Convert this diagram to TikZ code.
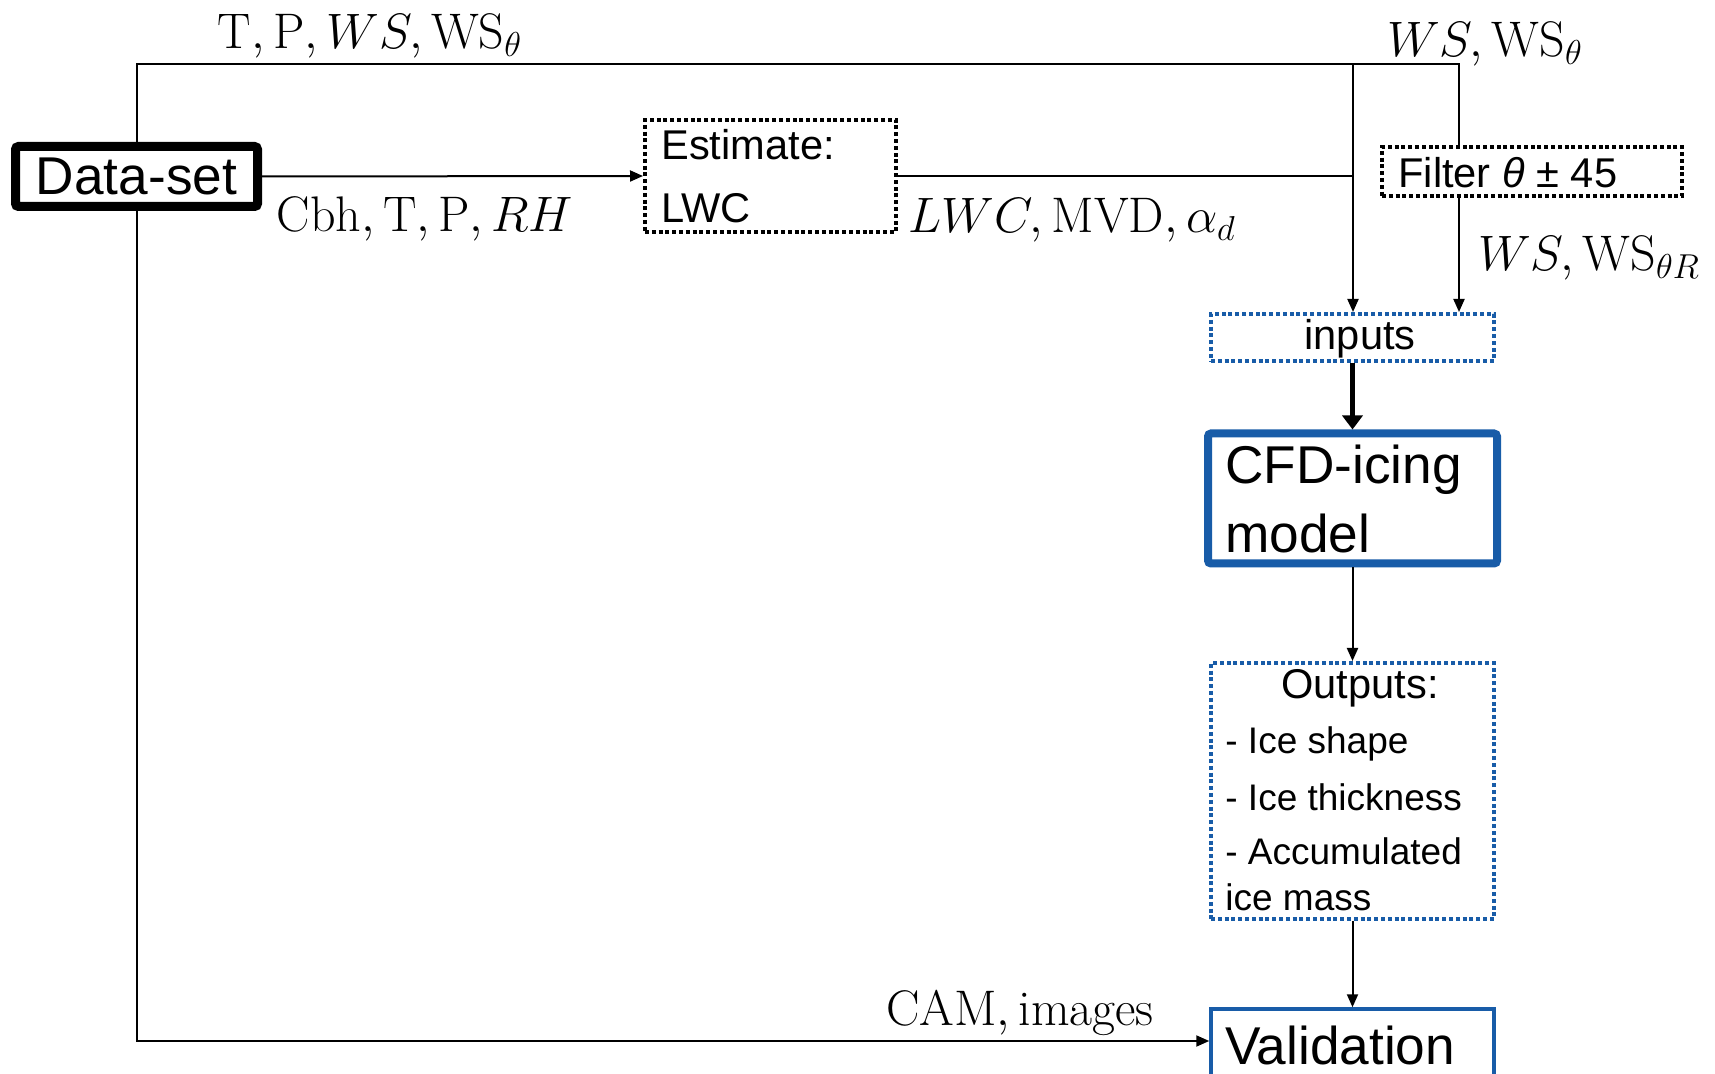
\documentclass[tikz,border=0pt]{standalone}
\usepackage{fontspec}
\newfontfamily\arial{Liberation Sans}
\usetikzlibrary{arrows.meta}
\definecolor{cfdblue}{RGB}{24,92,168}
\begin{document}
\begin{tikzpicture}[x=0.5pt,y=-0.5pt,
  conn/.style={line width=1pt,draw=black},
  arr/.style={conn,-{Triangle[length=6.5pt,width=5.5pt]}},
  bigarr/.style={line width=2.6pt,draw=black,-{Triangle[length=7pt,width=10pt]}},
  box/.style={rectangle,inner sep=0pt,fill=white},
  dotbox/.style={box,draw,line width=2pt,dash pattern=on 2pt off 1.4pt},
  bluedot/.style={dotbox,draw=cfdblue},
  big/.style={font=\arial\fontsize{26.6}{30}\selectfont,inner sep=0pt},
  mid/.style={font=\arial\fontsize{20.8}{24}\selectfont,inner sep=0pt},
  small/.style={font=\arial\fontsize{18.5}{22}\selectfont,inner sep=0pt},
  lab/.style={font=\fontsize{25}{30}\selectfont,inner sep=0pt,anchor=base}]
\useasboundingbox (0,0) rectangle (1715,1074);

% boxes
\node[box,draw,line width=4.5pt,rounded corners=1.5pt,minimum width=121pt,minimum height=30pt] (data) at (136.5,176.5) {};
\node[dotbox,minimum width=125.5pt,minimum height=56pt] (est) at (770.5,176) {};
\node[dotbox,minimum width=150pt,minimum height=24.5pt] (filt) at (1532,171.5) {};
\node[bluedot,minimum width=141.5pt,minimum height=23.5pt] (inp) at (1352.5,337.5) {};
\node[box,draw=cfdblue,line width=4pt,rounded corners=1.5pt,minimum width=144.5pt,minimum height=65pt] (cfd) at (1352.5,498.5) {};
\node[bluedot,minimum width=141.5pt,minimum height=128pt] (out) at (1352.5,791) {};
\node[box,draw=cfdblue,line width=1.75pt,minimum width=141.5pt,minimum height=50pt] (val) at (1352.5,1059) {};

% box texts
\node[big] (tdata) at (data.center) {Data-set};
\node[mid,anchor=west] (test1) at (661,145) {Estimate:};
\node[mid,anchor=west] (test2) at (661,208) {LWC};
\node[mid,anchor=west] (tfilt) at (1398,173) {Filter \textit{θ} ± 45};
\node[mid] (tinp) at (1360,339) {inputs};
\node[big,anchor=west] (tcfd1) at (1225,470) {CFD-icing};
\node[big,anchor=west] (tcfd2) at (1225,533) {model};
\node[mid] (tout) at (1360,688) {Outputs:};
\node[small,anchor=west] (tout1) at (1225,744) {- Ice shape};
\node[small,anchor=west] (tout2) at (1225,797) {- Ice thickness};
\node[small,anchor=west] (tout3) at (1225,851) {- Accumulated};
\node[small,anchor=west] (tout4) at (1225,897) {ice mass};
\node[big,anchor=west] (tval) at (1225,1045) {Validation};

% labels
\node[lab] (l1) at (370,49) {$\mathrm{T}, \mathrm{P}, WS, \mathrm{WS}_{\theta}$};
\node[lab] (l2) at (425,232) {$\mathrm{Cbh}, \mathrm{T}, \mathrm{P}, RH$};
\node[lab] (l3) at (1072,233) {$LWC, \mathrm{MVD}, \alpha_d$};
\node[lab] (l4) at (1485,57) {$WS, \mathrm{WS}_{\theta}$};
\node[lab] (l5) at (1589,271) {$WS, \mathrm{WS}_{\theta R}$};
\node[lab] (l6) at (1020,1025) {$\mathrm{CAM}, \mathrm{images}$};

% junction coordinates
\coordinate (tl) at (137,64.5);
\coordinate (tr1) at (1353,64.5);
\coordinate (tr2) at (1459,64.5);
\coordinate (bl) at (137,1041);

% connectors
\draw[conn] (data.north -| tl) -- (tl) -- (tr2) -- (tr2 |- filt.north);
\draw[arr] (tr1) -- (tr1 |- inp.north);
\draw[arr] (tr2 |- filt.south) -- (tr2 |- inp.north);
\draw[arr] (data.east) -- (est.west);
\draw[conn] (est.east) -- (tr1 |- est.east);
\draw[bigarr] (inp.south) -- (cfd.north);
\draw[arr] (cfd.south) -- (out.north);
\draw[arr] (out.south) -- (val.north);
\draw[arr] (data.south -| bl) -- (bl) -- (bl -| val.west);
\end{tikzpicture}
\end{document}
